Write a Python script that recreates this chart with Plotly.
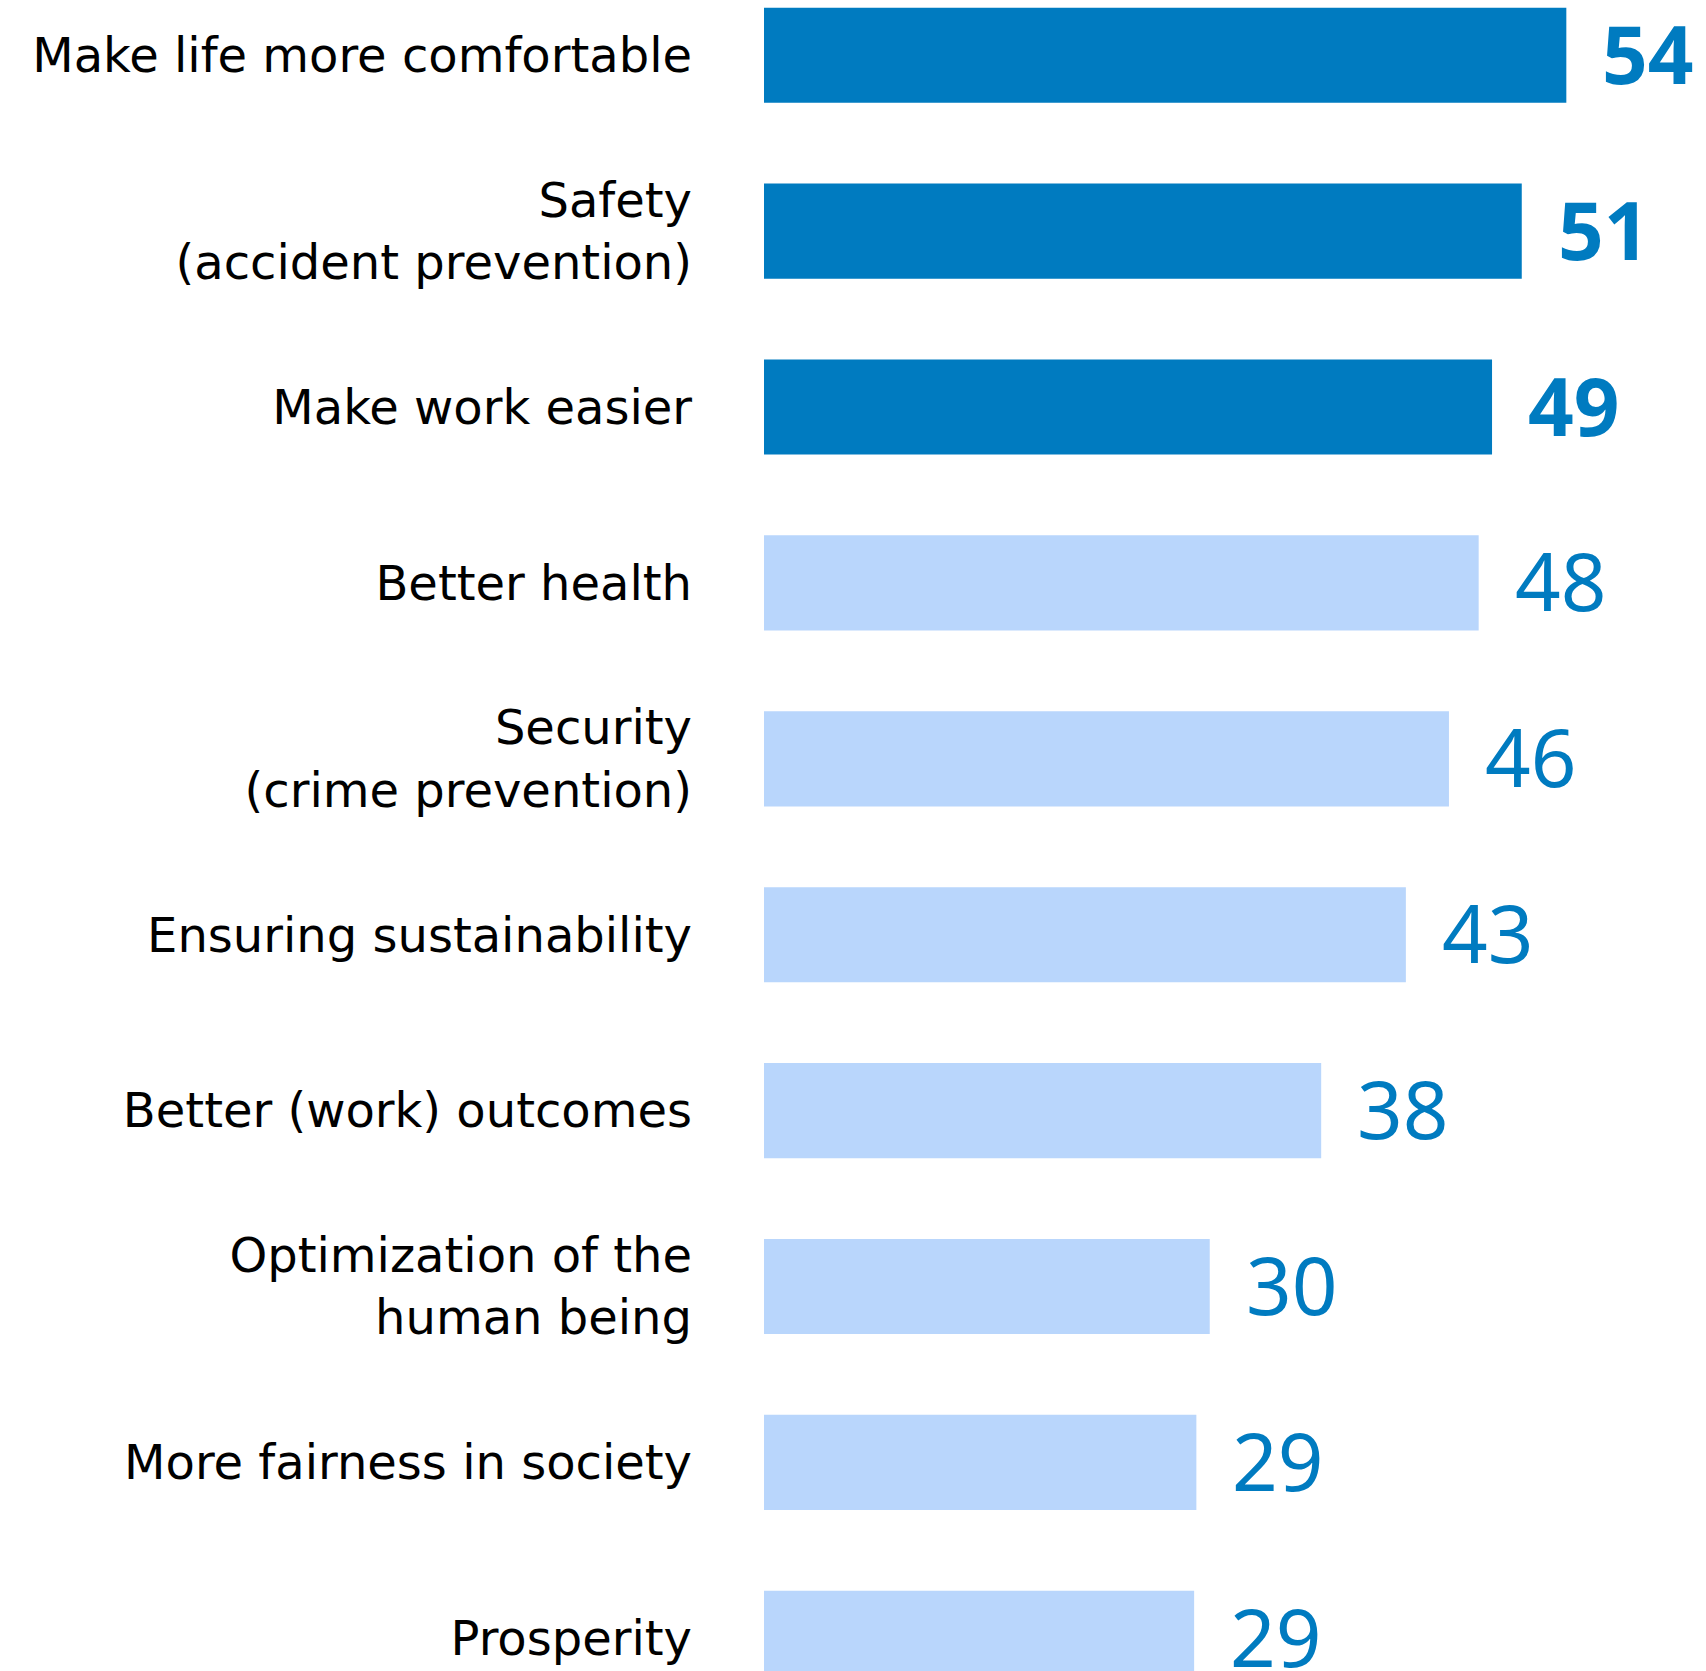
import plotly.graph_objects as go

categories = [
    "Make life more comfortable",
    "Safety<br>(accident prevention)",
    "Make work easier",
    "Better health",
    "Security<br>(crime prevention)",
    "Ensuring sustainability",
    "Better (work) outcomes",
    "Optimization of the<br>human being",
    "More fairness in society",
    "Prosperity",
]
values = [54, 51, 49, 48.1, 46.1, 43.2, 37.5, 30, 29.1, 28.95]
value_labels = ["54", "51", "49", "48", "46", "43", "38", "30", "29", "29"]
highlight = [True, True, True, False, False, False, False, False, False, False]

DARK = "#007BC0"
LIGHT = "#B9D6FC"

ypos = list(range(len(categories)))
colors = [DARK if h else LIGHT for h in highlight]

fig = go.Figure()
fig.add_trace(go.Bar(
    x=values, y=ypos, orientation="h",
    marker=dict(color=colors, line=dict(width=0)),
    width=0.541, hoverinfo="skip",
))

for v, y, lab, h in zip(values, ypos, value_labels, highlight):
    fig.add_annotation(
        x=v, y=y, text=f"<b>{lab}</b>" if h else lab,
        xanchor="left", yanchor="middle", xshift=35, yshift=3, showarrow=False,
        borderpad=0,
        font=dict(family="Noto Sans", size=80, color=DARK),
    )

fig.update_layout(
    width=1706, height=1671,
    margin=dict(l=764, r=0, t=0, b=0),
    paper_bgcolor="white", plot_bgcolor="white",
    showlegend=False,
    xaxis=dict(range=[0, 63.4], visible=False),
    yaxis=dict(
        range=[9.186, -0.314], tickvals=ypos, ticktext=categories,
        showgrid=False, zeroline=False, showline=False, ticks="",
        ticklabelstandoff=71,
        tickfont=dict(family="DejaVu Sans", size=48, color="#000000"),
    ),
)

fig.write_html("out.html")
